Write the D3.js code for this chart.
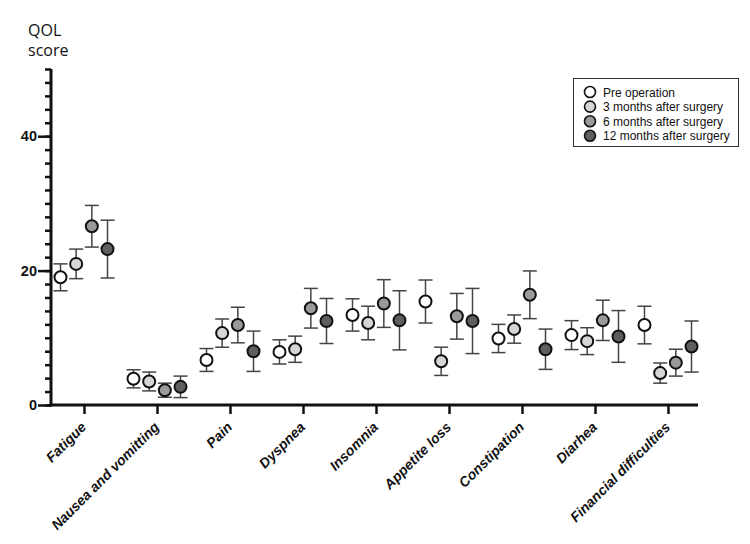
<!DOCTYPE html>
<html>
<head>
<meta charset="utf-8">
<script src="https://cdn.jsdelivr.net/npm/d3@7"></script>
<style>
  body { margin: 0; background: #fff; }
  svg { display: block; }
</style>
</head>
<body>
<div id="chart"></div>
<script>
// data (mean and half error bar)
var categories = ["Fatigue", "Nausea and vomitting", "Pain", "Dyspnea", "Insomnia",
    "Appetite loss", "Constipation", "Diarhea", "Financial difficulties"];
var seriesNames = ["Pre operation", "3 months after surgery", "6 months after surgery", "12 months after surgery"];
var seriesFill = ["#ffffff", "#d6d6d6", "#9a9a9a", "#5e5e5e"];

var preMean = [19.0, 3.9, 6.7, 7.9, 13.4, 15.4, 9.9, 10.4, 11.9];
var preErr  = [2.0, 1.35, 1.7, 1.8, 2.4, 3.2, 2.1, 2.15, 2.8];
var m3Mean  = [21.0, 3.5, 10.7, 8.3, 12.2, 6.5, 11.3, 9.5, 4.75];
var m3Err   = [2.2, 1.4, 2.1, 1.95, 2.5, 2.1, 2.1, 2.0, 1.5];
var m6Mean  = [26.6, 2.2, 11.9, 14.4, 15.1, 13.2, 16.4, 12.6, 6.3];
var m6Err   = [3.1, 1.05, 2.65, 2.95, 3.55, 3.4, 3.55, 3.0, 2.0];
var m12Mean = [23.2, 2.7, 8.0, 12.5, 12.6, 12.5, 8.3, 10.2, 8.7];
var m12Err  = [4.3, 1.6, 3.0, 3.35, 4.4, 4.85, 3.0, 3.85, 3.8];

var yMajorTicks = [0, 20, 40];

var svgWidth = 750;
var svgHeight = 544;

var svg = d3.select("#chart")
    .append("svg")
    .attr("width", svgWidth)
    .attr("height", svgHeight);

// scales
var xScale = d3.scalePoint()
    .domain(categories)
    .range([84, 668]);

var offsetScale = d3.scalePoint()
    .domain(seriesNames)
    .range([-23.5, 23.5]);

var yScale = d3.scaleLinear()
    .domain([0, 50])
    .range([405, 69]);

// flatten into rows
var means = [preMean, m3Mean, m6Mean, m12Mean];
var errs = [preErr, m3Err, m6Err, m12Err];
var rows = [];
seriesNames.forEach(function(s, si) {
    categories.forEach(function(c, ci) {
        rows.push({ cat: c, series: s, si: si, mean: means[si][ci], err: errs[si][ci] });
    });
});

// y axis: minor ticks every 2
var yMinor = svg.append("g")
    .attr("transform", "translate(51,0)")
    .call(d3.axisLeft(yScale).tickValues(d3.range(0, 51, 2)).tickSize(6).tickFormat(""));
yMinor.select(".domain").remove();
yMinor.selectAll("line").attr("stroke", "#111").attr("stroke-width", 2.5);

var yMajor = svg.append("g")
    .attr("transform", "translate(51,0)")
    .call(d3.axisLeft(yScale).tickValues(yMajorTicks).tickSize(13).tickPadding(1).tickSizeOuter(0));
yMajor.select(".domain").attr("stroke", "#111").attr("stroke-width", 3).attr("d", "M0,69V406.5");
yMajor.selectAll("line").attr("stroke", "#111").attr("stroke-width", 2.5);
yMajor.selectAll("text")
    .attr("fill", "#111")
    .style("font-family", "Liberation Sans, Arial, sans-serif")
    .style("font-weight", "bold")
    .style("font-size", "14.5px");

// x axis
var xAxis = svg.append("g")
    .attr("transform", "translate(0,405)")
    .call(d3.axisBottom(xScale).tickSize(9).tickSizeOuter(0).tickFormat(""));
xAxis.select(".domain").attr("stroke", "#111").attr("stroke-width", 3).attr("d", "M49.5,0H698");
xAxis.selectAll("line").attr("stroke", "#111").attr("stroke-width", 2.5);

svg.append("g")
    .selectAll("text")
    .data(categories)
    .enter()
    .append("text")
    .attr("transform", d => `translate(${xScale(d) + 3}, 428) rotate(-45)`)
    .attr("text-anchor", "end")
    .style("font-family", "Liberation Sans, Arial, sans-serif")
    .style("font-weight", "bold")
    .style("font-style", "italic")
    .style("font-size", "14px")
    .attr("fill", "#111")
    .text(d => d);

// y axis title
var title = svg.append("text")
    .style("font-family", "Open Sans, sans-serif")
    .style("font-size", "16px")
    .attr("fill", "#111");
title.append("tspan").attr("x", 28).attr("y", 36).text("QOL");
title.append("tspan").attr("x", 28).attr("y", 56).text("score");

// error bars
var bars = svg.append("g")
    .selectAll("g")
    .data(rows)
    .enter()
    .append("g")
    .attr("transform", d => `translate(${xScale(d.cat) + offsetScale(d.series)}, 0)`)
    .attr("stroke", "#444")
    .attr("stroke-width", 1.5);

bars.append("line")
    .attr("x1", 0).attr("x2", 0)
    .attr("y1", d => yScale(d.mean + d.err))
    .attr("y2", d => yScale(d.mean - d.err));
bars.append("line")
    .attr("x1", -7).attr("x2", 7)
    .attr("y1", d => yScale(d.mean + d.err))
    .attr("y2", d => yScale(d.mean + d.err));
bars.append("line")
    .attr("x1", -7).attr("x2", 7)
    .attr("y1", d => yScale(d.mean - d.err))
    .attr("y2", d => yScale(d.mean - d.err));

// points
svg.append("g")
    .selectAll("circle")
    .data(rows)
    .enter()
    .append("circle")
    .attr("cx", d => xScale(d.cat) + offsetScale(d.series))
    .attr("cy", d => yScale(d.mean))
    .attr("r", 6)
    .attr("fill", d => seriesFill[d.si])
    .attr("stroke", "#111")
    .attr("stroke-width", 2);

// legend
var legend = svg.append("g");
legend.append("rect")
    .attr("x", 573.5).attr("y", 78.5)
    .attr("width", 165).attr("height", 68)
    .attr("fill", "#fff")
    .attr("stroke", "#333")
    .attr("stroke-width", 1);

var legendRows = legend.selectAll("g.item")
    .data(seriesNames)
    .enter()
    .append("g")
    .attr("class", "item")
    .attr("transform", (d, i) => `translate(590, ${92 + i * 14.6})`);
legendRows.append("circle")
    .attr("r", 5.5)
    .attr("fill", (d, i) => seriesFill[i])
    .attr("stroke", "#111")
    .attr("stroke-width", 1.6);
legendRows.append("text")
    .attr("x", 13)
    .attr("y", 4.5)
    .style("font-family", "Liberation Sans, Arial, sans-serif")
    .style("font-size", "12px")
    .attr("fill", "#111")
    .text(d => d);
</script>
</body>
</html>
